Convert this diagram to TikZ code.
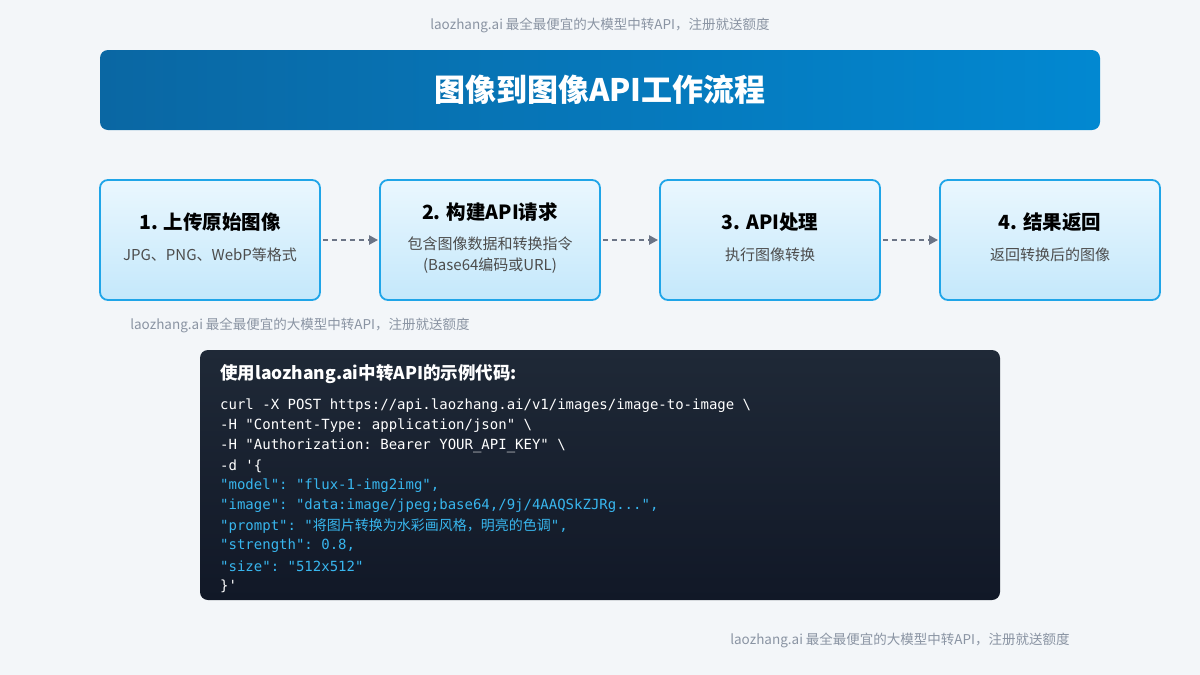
\documentclass[tikz,border=0pt]{standalone}
\usepackage{fontspec}
\setmainfont{Noto Sans CJK SC}
\setmonofont{DejaVu Sans Mono}
\newfontfamily\cjk{Noto Sans CJK SC}
\usetikzlibrary{positioning, arrows.meta}
\definecolor{bgcol}{HTML}{F3F6F9}
\definecolor{barL}{HTML}{0A67A3}
\definecolor{barR}{HTML}{0288D1}
\definecolor{boxedge}{HTML}{1FA5E8}
\definecolor{boxtop}{HTML}{EAF7FE}
\definecolor{boxbot}{HTML}{C4E8FB}
\definecolor{codetop}{HTML}{1F2937}
\definecolor{codebot}{HTML}{111827}
\definecolor{jsoncol}{HTML}{38B6EE}
\definecolor{marktxt}{HTML}{8A94A3}
\definecolor{arrowcol}{HTML}{6B7486}
\tikzset{stepbox/.style={draw=boxedge, line width=1.8pt, rounded corners=8pt, minimum width=220pt, minimum height=120pt, top color=boxtop, bottom color=boxbot, align=center},
  flow/.style={draw=arrowcol, line width=2.5pt, dash pattern=on 5pt off 4pt, -{Triangle[length=9pt,width=9pt]}},
  codeline/.style={anchor=west, font=\ttfamily\fontsize{14}{14}\selectfont, inner sep=0pt},
  watermark/.style={text=marktxt, font=\fontsize{13.5}{14}\selectfont}}
\begin{document}
\begin{tikzpicture}[x=1pt, y=-1pt]
  \fill[bgcol] (0,0) rectangle (1200,675);
  \useasboundingbox (0,0) rectangle (1200,675);
  \node[watermark] (m1) at (600,25) {laozhang.ai 最全最便宜的大模型中转API，注册就送额度};
  % title bar
  \shade[left color=barL, right color=barR, rounded corners=8pt] (100,50) rectangle (1100,130);
  \node[text=white, font=\bfseries\fontsize{31}{32}\selectfont] (title) at (600,90) {图像到图像API工作流程};

  \node[stepbox] (s1) at (210,240) {};
  \node[stepbox] (s2) at (490,240) {};
  \node[stepbox] (s3) at (770,240) {};
  \node[stepbox] (s4) at (1050,240) {};
  \node[font=\bfseries\fontsize{19.5}{20}\selectfont] at (210,222) {1. 上传原始图像};
  \node[text=black!70, font=\fontsize{15}{21}\selectfont] at (210,255) {JPG、PNG、WebP等格式};
  \node[font=\bfseries\fontsize{19.5}{20}\selectfont] at (490,212) {2. 构建API请求};
  \node[text=black!70, font=\fontsize{15}{21}\selectfont, align=center] at (490,255) {包含图像数据和转换指令\\(Base64编码或URL)};
  \node[font=\bfseries\fontsize{19.5}{20}\selectfont] at (770,222) {3. API处理};
  \node[text=black!70, font=\fontsize{15}{21}\selectfont] at (770,255) {执行图像转换};
  \node[font=\bfseries\fontsize{19.5}{20}\selectfont] at (1050,222) {4. 结果返回};
  \node[text=black!70, font=\fontsize{15}{21}\selectfont] at (1050,255) {返回转换后的图像};
  \foreach \a/\b in {s1/s2, s2/s3, s3/s4}
    \draw[flow] ([xshift=2pt]\a.east) -- ([xshift=-1pt]\b.west);

  \node[watermark] (m2) at (300,325) {laozhang.ai 最全最便宜的大模型中转API，注册就送额度};

  % code block
  \shade[top color=codetop, bottom color=codebot, rounded corners=8pt] (200,350) rectangle (1000,600);
  \node[anchor=west, text=white, font=\bfseries\fontsize{17.5}{18}\selectfont, inner sep=0pt] (head) at (220,374) {使用laozhang.ai中转API的示例代码:};
  \node[codeline, text=white] (c1) at (220,406) {curl -X POST https://api.laozhang.ai/v1/images/image-to-image \textbackslash};
  \node[codeline, text=white] (c2) at (220,426) {-H "Content-Type: application/json" \textbackslash};
  \node[codeline, text=white] (c3) at (220,446) {-H "Authorization: Bearer YOUR\_API\_KEY" \textbackslash};
  \node[codeline, text=white] (c4) at (220,466) {-d '\{};
  \node[codeline, text=jsoncol] (c5) at (220,486) {"model": "flux-1-img2img",};
  \node[codeline, text=jsoncol] (c6) at (220,506) {"image": "data:image/jpeg;base64,/9j/4AAQSkZJRg...",};
  \node[codeline, text=jsoncol] (c7) at (220,526) {"prompt": "{\cjk\fontsize{14}{14}\selectfont 将图片转换为水彩画风格，明亮的色调}",};
  \node[codeline, text=jsoncol] (c8) at (220,546) {"strength": 0.8,};
  \node[codeline, text=jsoncol] (c9) at (220,566) {"size": "512x512"};
  \node[codeline, text=white] (c10) at (220,586) {\}'};

  \node[watermark] (m3) at (900,640) {laozhang.ai 最全最便宜的大模型中转API，注册就送额度};
\end{tikzpicture}
\end{document}
